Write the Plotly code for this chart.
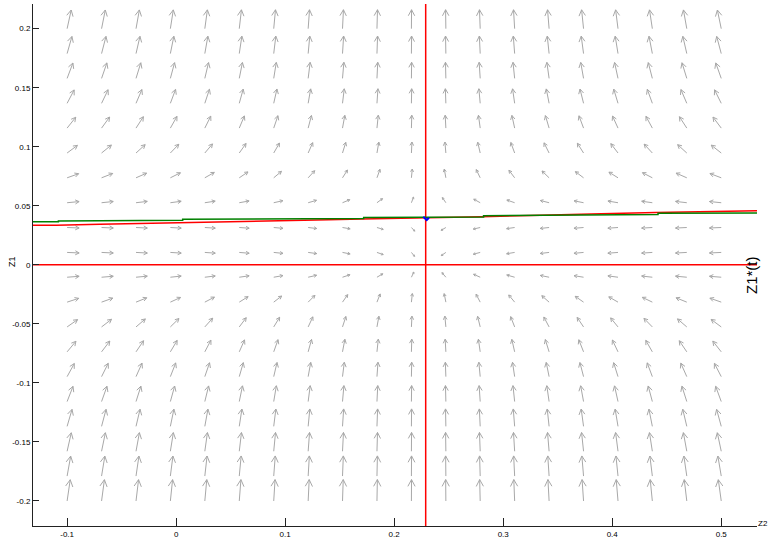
import numpy as np
import plotly.graph_objects as go

# ---- data ----
x_grid = [-0.1, -0.0684, -0.0368, -0.0053, 0.0263, 0.0579, 0.0895, 0.1211, 0.1526, 0.1842,
          0.2158, 0.2474, 0.2789, 0.3105, 0.3421, 0.3737, 0.4053, 0.4368, 0.4684, 0.5]
y_grid = [-0.2, -0.1789, -0.1579, -0.1368, -0.1158, -0.0947, -0.0737, -0.0526, -0.0316, -0.0105,
          0.0105, 0.0316, 0.0526, 0.0737, 0.0947, 0.1158, 0.1368, 0.1579, 0.1789, 0.2]
# horizontal component per column, vertical component per row (x1e-3)
u_col = [7.0, 6.4, 5.7, 5.0, 4.4, 3.7, 3.0, 2.3, 1.6, 0.9,
         0.25, -0.45, -1.2, -1.9, -2.6, -3.3, -4.0, -4.8, -5.7, -6.6]
v_row = [48.0, 39.2, 31.2, 24.2, 18.0, 12.8, 8.4, 4.9, 2.3, 0.53,
         -0.31, -0.27, 0.66, 2.5, 5.2, 8.8, 13.3, 18.6, 24.9, 32.0]

z2_star = 0.2289          # red vertical line
z1_zero = 0.0             # red horizontal line

green_x = [-0.1313, -0.108, -0.108, -0.051, -0.051, 0.006, 0.006, 0.172, 0.172, 0.282, 0.282, 0.39, 0.39, 0.442, 0.442, 0.5328]
green_y = [0.0364, 0.0364, 0.0372, 0.0372, 0.0378, 0.0378, 0.0385, 0.0393, 0.0400, 0.0405, 0.0415, 0.0421, 0.0427, 0.0427, 0.0436, 0.0438]

red_x = [-0.1313, -0.11, -0.07, -0.02, 0.02, 0.08, 0.14, 0.17, 0.2289, 0.28, 0.325, 0.353, 0.39, 0.44, 0.48, 0.5328]
red_y = [0.0336, 0.0336, 0.0344, 0.0352, 0.0360, 0.0370, 0.0382, 0.0389, 0.0396, 0.0407, 0.0418, 0.0426, 0.0432, 0.0444, 0.0452, 0.0458]

blue_x = [0.2267, 0.2298, 0.2319]
blue_y = [0.0407, 0.0379, 0.0398]

x_ticks = [-0.1, 0, 0.1, 0.2, 0.3, 0.4, 0.5]
x_ticklabels = ["-0.1", "0", "0.1", "0.2", "0.3", "0.4", "0.5"]
y_ticks = [-0.2, -0.15, -0.1, -0.05, 0, 0.05, 0.1, 0.15, 0.2]
y_ticklabels = ["-0.2", "-0.15", "-0.1", "-0.05", "0", "0.05", "0.1", "0.15", "0.2"]

# ---- layout geometry ----
W, H = 768, 541
ml, mr, mt, mb = 33, 11, 4, 15
xr = [-0.1313, 0.5328]
yr = [-0.2212, 0.2209]
sx = (W - ml - mr) / (xr[1] - xr[0])   # px per unit
sy = (H - mt - mb) / (yr[1] - yr[0])

# ---- build arrows (length grows with magnitude^0.3, open heads) ----
C, P = 6.7, 0.3
head_frac, head_ang = 0.36, np.radians(28)
ax, ay = [], []
for i, yv in enumerate(y_grid):
    for j, xv in enumerate(x_grid):
        u, v = u_col[j], v_row[i]
        m = np.hypot(u, v)
        L = C * m ** P
        dx, dy = u / m, v / m
        tx, ty = xv + L * dx / sx, yv + L * dy / sy
        ax += [xv, tx, None]
        ay += [yv, ty, None]
        hl = head_frac * L
        for s in (1, -1):
            ca, sa = np.cos(s * head_ang), np.sin(s * head_ang)
            bx = -(dx * ca - dy * sa)
            by = -(dx * sa + dy * ca)
            ax += [tx, tx + hl * bx / sx, None]
            ay += [ty, ty + hl * by / sy, None]

fig = go.Figure()
fig.add_trace(go.Scatter(x=ax, y=ay, mode="lines", line=dict(color="#a8a8a8", width=1),
                         hoverinfo="skip", showlegend=False))
fig.add_trace(go.Scatter(x=[z2_star, z2_star], y=yr, mode="lines",
                         line=dict(color="#ff0000", width=1.5), showlegend=False))
fig.add_trace(go.Scatter(x=xr, y=[z1_zero, z1_zero], mode="lines",
                         line=dict(color="#ff0000", width=1.5), showlegend=False))
fig.add_trace(go.Scatter(x=red_x, y=red_y, mode="lines",
                         line=dict(color="#ff0000", width=1.5), showlegend=False))
fig.add_trace(go.Scatter(x=green_x, y=green_y, mode="lines",
                         line=dict(color="#008000", width=1.5), showlegend=False))
fig.add_trace(go.Scatter(x=blue_x, y=blue_y, mode="lines",
                         line=dict(color="#0000ff", width=2), showlegend=False))

font = "Liberation Sans, Arial, Helvetica, sans-serif"
fig.update_layout(
    width=W, height=H, autosize=False,
    margin=dict(l=ml, r=mr, t=mt, b=mb),
    paper_bgcolor="white", plot_bgcolor="white",
    font=dict(family=font, size=8, color="black"),
    xaxis=dict(range=xr, tickvals=x_ticks, ticktext=x_ticklabels, showgrid=False,
               zeroline=False, showline=True, linecolor="#222", linewidth=1,
               ticks="inside", ticklen=8, tickcolor="#222", mirror=False, automargin=False),
    yaxis=dict(range=yr, tickvals=y_ticks, ticktext=y_ticklabels, showgrid=False,
               zeroline=False, showline=True, linecolor="#222", linewidth=1,
               ticks="inside", ticklen=6, tickcolor="#222", mirror=False, automargin=False),
    annotations=[
        dict(text="Z1", xref="paper", yref="paper", x=(12 - ml) / (W - ml - mr),
             y=(H - mb - 262) / (H - mt - mb), textangle=-90, showarrow=False,
             font=dict(size=9), xanchor="center", yanchor="middle"),
        dict(text="Z2", xref="paper", yref="paper", x=(756 - ml) / (W - ml - mr),
             y=(H - mb - 523) / (H - mt - mb), showarrow=False,
             font=dict(size=8), xanchor="left", yanchor="middle"),
        dict(text="Z1*(t)", xref="paper", yref="paper", x=(752 - ml) / (W - ml - mr),
             y=(H - mb - 275) / (H - mt - mb), textangle=-90, showarrow=False,
             font=dict(size=15), xanchor="center", yanchor="middle"),
    ],
)
fig.write_html("out.html", config={"displayModeBar": False},
               post_script="document.body.style.margin='0';document.body.style.overflow='hidden';")
